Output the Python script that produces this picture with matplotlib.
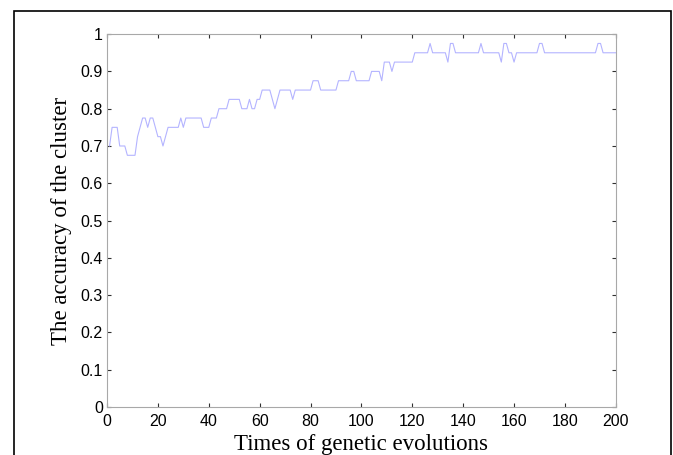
import matplotlib.pyplot as plt
from matplotlib.patches import Rectangle

# accuracy of the cluster per generation
generations = list(range(1, 201))
accuracy = [
    0.7, 0.75, 0.75, 0.75, 0.7, 0.7, 0.7, 0.675, 0.675, 0.675,
    0.675, 0.725, 0.75, 0.775, 0.775, 0.75, 0.775, 0.775, 0.75, 0.725,
    0.725, 0.7, 0.725, 0.75, 0.75, 0.75, 0.75, 0.75, 0.775, 0.75,
    0.775, 0.775, 0.775, 0.775, 0.775, 0.775, 0.775, 0.75, 0.75, 0.75,
    0.775, 0.775, 0.775, 0.8, 0.8, 0.8, 0.8, 0.825, 0.825, 0.825,
    0.825, 0.825, 0.8, 0.8, 0.8, 0.825, 0.8, 0.8, 0.825, 0.825,
    0.85, 0.85, 0.85, 0.85, 0.825, 0.8, 0.825, 0.85, 0.85, 0.85,
    0.85, 0.85, 0.825, 0.85, 0.85, 0.85, 0.85, 0.85, 0.85, 0.85,
    0.875, 0.875, 0.875, 0.85, 0.85, 0.85, 0.85, 0.85, 0.85, 0.85,
    0.875, 0.875, 0.875, 0.875, 0.875, 0.9, 0.9, 0.875, 0.875, 0.875,
    0.875, 0.875, 0.875, 0.9, 0.9, 0.9, 0.9, 0.875, 0.925, 0.925,
    0.925, 0.9, 0.925, 0.925, 0.925, 0.925, 0.925, 0.925, 0.925, 0.925,
    0.95, 0.95, 0.95, 0.95, 0.95, 0.95, 0.975, 0.95, 0.95, 0.95,
    0.95, 0.95, 0.95, 0.925, 0.975, 0.975, 0.95, 0.95, 0.95, 0.95,
    0.95, 0.95, 0.95, 0.95, 0.95, 0.95, 0.975, 0.95, 0.95, 0.95,
    0.95, 0.95, 0.95, 0.95, 0.925, 0.975, 0.975, 0.95, 0.95, 0.925,
    0.95, 0.95, 0.95, 0.95, 0.95, 0.95, 0.95, 0.95, 0.95, 0.975,
    0.975, 0.95, 0.95, 0.95, 0.95, 0.95, 0.95, 0.95, 0.95, 0.95,
    0.95, 0.95, 0.95, 0.95, 0.95, 0.95, 0.95, 0.95, 0.95, 0.95,
    0.95, 0.95, 0.975, 0.975, 0.95, 0.95, 0.95, 0.95, 0.95, 0.95,
]

x_ticks = list(range(0, 201, 20))
y_ticks = [0, 0.1, 0.2, 0.3, 0.4, 0.5, 0.6, 0.7, 0.8, 0.9, 1]
y_tick_labels = ['0', '0.1', '0.2', '0.3', '0.4', '0.5', '0.6', '0.7', '0.8', '0.9', '1']

fig = plt.figure(figsize=(6.73, 4.55), dpi=100)
ax = fig.add_axes([0.159, 0.1055, 0.756, 0.8195])

ax.plot(generations, accuracy, color='#b4b4ff', linewidth=0.8)

ax.set_xlim(0, 200)
ax.set_ylim(0, 1)
ax.set_xticks(x_ticks)
ax.set_yticks(y_ticks)
ax.set_yticklabels(y_tick_labels)

# matlab-like box: gray spines, small inward ticks on every side
for s in ax.spines.values():
    s.set_color('#a8a8a8')
    s.set_linewidth(0.8)
ax.tick_params(direction='in', length=3, width=0.8, color='#303030',
               top=True, right=True, labelsize=11.5, pad=3)
ax.tick_params(axis='x', pad=5)
for lbl in ax.get_xticklabels() + ax.get_yticklabels():
    lbl.set_family('Liberation Sans')

ax.set_xlabel('Times of genetic evolutions', family='Liberation Serif',
              fontsize=16.5, labelpad=4)
ax.set_ylabel('The accuracy of the cluster', family='Liberation Serif',
              fontsize=16.5, labelpad=6)

# outer frame around the figure (bottom edge is cut off)
fig.patches.append(Rectangle((0.0208, -0.1), 0.976, 1.076, transform=fig.transFigure,
                             fill=False, edgecolor='black', linewidth=1.2, clip_on=False))

fig.savefig('out.png', dpi=100)
